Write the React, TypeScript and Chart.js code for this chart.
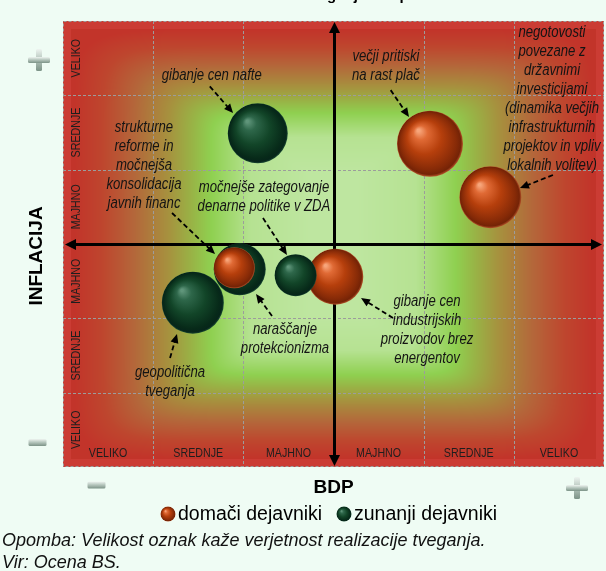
import React, { useEffect, useRef } from 'react';
import { Chart, registerables } from 'chart.js';

Chart.register(...registerables);

// ---------- data ----------
const titleText = 'Matrika tveganj za napoved';
const xAxisTitle = 'BDP';
const yAxisTitle = 'INFLACIJA';
const colLabels = ['VELIKO', 'SREDNJE', 'MAJHNO', 'MAJHNO', 'SREDNJE', 'VELIKO'];
const rowLabels = ['VELIKO', 'SREDNJE', 'MAJHNO', 'MAJHNO', 'SREDNJE', 'VELIKO'];
const legendLabels = ['domači dejavniki', 'zunanji dejavniki'];
const noteLines = [
  'Opomba: Velikost oznak kaže verjetnost realizacije tveganja.',
  'Vir: Ocena BS.',
];

// risks (drawing order = array order)
const riskNames = [
  'geopolitična tveganja',
  'naraščanje protekcionizma',
  'strukturne reforme in močnejša konsolidacija javnih financ',
  'gibanje cen industrijskih proizvodov brez energentov',
  'močnejše zategovanje denarne politike v ZDA',
  'gibanje cen nafte',
  'večji pritiski na rast plač',
  'negotovosti povezane z državnimi investicijami',
];
const riskBDP = [-1.56, -1.04, -1.1, 0.02, -0.42, -0.84, 1.07, 1.74];
const riskInflacija = [-0.79, -0.34, -0.32, -0.44, -0.42, 1.49, 1.35, 0.63];
const riskVerjetnost = [31, 26, 20.5, 28, 21, 30, 33, 31];
const riskType = ['z', 'z', 'd', 'd', 'z', 'z', 'd', 'd'];

// annotation texts with anchors in data units
const annotations = [
  { lines: ['gibanje cen nafte'], at: [-1.35, 2.27], from: [-1.372, 2.12], to: [-1.114, 1.762] },
  { lines: ['večji pritiski', 'na rast plač'], at: [0.582, 2.526], from: [0.634, 2.07], to: [0.837, 1.709] },
  {
    lines: ['negotovosti', 'povezane z', 'državnimi', 'investicijami', '(dinamika večjih', 'infrastrukturnih', 'projektov in vpliv', 'lokalnih volitev)'],
    at: [2.423, 2.839], from: [2.434, 0.928], to: [2.068, 0.753],
  },
  {
    lines: ['strukturne', 'reforme in', 'močnejša', 'konsolidacija', 'javnih financ'],
    at: [-2.102, 1.561], from: [-1.791, 0.417], to: [-1.314, -0.135],
  },
  { lines: ['močnejše zategovanje', 'denarne politike v ZDA'], at: [-0.771, 0.765], from: [-0.782, 0.35], to: [-0.516, -0.148] },
  { lines: ['naraščanje', 'protekcionizma'], at: [-0.538, -1.157], from: [-0.682, -0.969], to: [-0.859, -0.673] },
  { lines: ['geopolitična', 'tveganja'], at: [-1.813, -1.736], from: [-1.813, -1.534], to: [-1.736, -1.211] },
  {
    lines: ['gibanje cen', 'industrijskih', 'proizvodov brez', 'energentov'],
    at: [1.037, -0.78], from: [0.66, -0.996], to: [0.305, -0.727],
  },
];

// ---------- styling helpers ----------
const FONT = '"Liberation Sans", Arial, sans-serif';
const PAGE_BG = '#effcf4';
const NARROW = 0.82;

const stops: [number, number[]][] = [
  [0, [190, 230, 160]],
  [0.25, [182, 226, 146]],
  [0.42, [143, 208, 80]],
  [0.5, [152, 180, 70]],
  [0.6, [166, 146, 62]],
  [0.75, [180, 102, 58]],
  [0.88, [190, 70, 46]],
  [1, [194, 52, 42]],
];

function colorAt(t: number) {
  for (let i = 1; i < stops.length; i++) {
    if (t <= stops[i][0]) {
      const [t0, c0] = stops[i - 1];
      const [t1, c1] = stops[i];
      const f = (t - t0) / (t1 - t0);
      return [c0[0] + (c1[0] - c0[0]) * f, c0[1] + (c1[1] - c0[1]) * f, c0[2] + (c1[2] - c0[2]) * f];
    }
  }
  return stops[stops.length - 1][1];
}

let gradCache: HTMLCanvasElement | null = null;
function gradientCanvas(w: number, h: number) {
  if (gradCache && gradCache.width === w && gradCache.height === h) return gradCache;
  const c = document.createElement('canvas');
  c.width = w;
  c.height = h;
  const g = c.getContext('2d')!;
  const img = g.createImageData(w, h);
  const clamp = (v: number) => Math.max(0, Math.min(1, v));
  for (let j = 0; j < h; j++) {
    for (let i = 0; i < w; i++) {
      const u = Math.abs(i + 0.5 - w / 2) / (w / 2);
      const v = Math.abs(j + 0.5 - h / 2) / (h / 2);
      const tu = clamp(1.15 * u - 0.1);
      const tv = clamp(1.55 * v - 0.49);
      const t = clamp(Math.pow(Math.pow(tu, 8) + Math.pow(tv, 8), 0.125));
      let col = colorAt(t);
      if (i < 8 || j < 8 || i >= w - 8 || j >= h - 8) col = [203, 60, 52];
      const k = (j * w + i) * 4;
      img.data[k] = col[0];
      img.data[k + 1] = col[1];
      img.data[k + 2] = col[2];
      img.data[k + 3] = 255;
    }
  }
  g.putImageData(img, 0, 0);
  gradCache = c;
  return c;
}

function sphereGradient(ctx: CanvasRenderingContext2D, x: number, y: number, r: number, type: string) {
  if (!isFinite(x) || !isFinite(y) || !isFinite(r) || r <= 0) return type === 'd' ? '#bb420e' : '#124528';
  const g = ctx.createRadialGradient(x - r * 0.35, y - r * 0.4, r * 0.04, x, y, r);
  if (type === 'd') {
    g.addColorStop(0, '#f7a57a');
    g.addColorStop(0.18, '#e06a35');
    g.addColorStop(0.5, '#b63f0c');
    g.addColorStop(0.85, '#862a07');
    g.addColorStop(0.95, '#742306');
    g.addColorStop(1, '#b5532a');
  } else {
    g.addColorStop(0, '#5f957a');
    g.addColorStop(0.2, '#2e674a');
    g.addColorStop(0.55, '#124528');
    g.addColorStop(0.88, '#072a19');
    g.addColorStop(0.96, '#06251a');
    g.addColorStop(1, '#1a4a33');
  }
  return g;
}

function narrowText(ctx: CanvasRenderingContext2D, text: string, x: number, y: number, font: string, align: CanvasTextAlign = 'center', sx = NARROW) {
  ctx.save();
  ctx.translate(x, y);
  ctx.scale(sx, 1);
  ctx.font = font;
  ctx.textAlign = align;
  ctx.textBaseline = 'middle';
  ctx.fillText(text, 0, 0);
  ctx.restore();
}

function arrowHead(ctx: CanvasRenderingContext2D, x0: number, y0: number, x1: number, y1: number, len: number, half: number) {
  const a = Math.atan2(y1 - y0, x1 - x0);
  ctx.beginPath();
  ctx.moveTo(x1, y1);
  ctx.lineTo(x1 - len * Math.cos(a) + half * Math.sin(a), y1 - len * Math.sin(a) - half * Math.cos(a));
  ctx.lineTo(x1 - len * Math.cos(a) - half * Math.sin(a), y1 - len * Math.sin(a) + half * Math.cos(a));
  ctx.closePath();
  ctx.fill();
}

function bevelRect(ctx: CanvasRenderingContext2D, x: number, y: number, w: number, h: number) {
  const g = ctx.createLinearGradient(0, y, 0, y + h);
  g.addColorStop(0, '#eef4f0');
  g.addColorStop(0.45, '#b8c8bf');
  g.addColorStop(1, '#7c9387');
  ctx.fillStyle = g;
  ctx.beginPath();
  if ((ctx as any).roundRect) (ctx as any).roundRect(x, y, w, h, 1.5);
  else ctx.rect(x, y, w, h);
  ctx.fill();
}
function plusIcon(ctx: CanvasRenderingContext2D, cx: number, cy: number) {
  bevelRect(ctx, cx - 3, cy - 11, 6, 22);
  bevelRect(ctx, cx - 11, cy - 3, 22, 6);
}
function minusIcon(ctx: CanvasRenderingContext2D, cx: number, cy: number) {
  bevelRect(ctx, cx - 9, cy - 3.5, 18, 7);
}

const matrixPlugin = {
  id: 'matrix',
  beforeDraw(chart: any) {
    const { ctx, chartArea: a, scales } = chart;
    const xs = scales.x;
    const ys = scales.y;
    ctx.save();
    ctx.fillStyle = PAGE_BG;
    ctx.fillRect(0, 0, chart.width, chart.height);
    const w = Math.round(a.right - a.left);
    const h = Math.round(a.bottom - a.top);
    ctx.drawImage(gradientCanvas(w, h), a.left, a.top);

    // dashed grid
    ctx.strokeStyle = '#9c9c9c';
    ctx.lineWidth = 1;
    ctx.setLineDash([3, 2]);
    for (const v of [-2, -1, 1, 2]) {
      const px = Math.round(xs.getPixelForValue(v)) + 0.5;
      ctx.beginPath();
      ctx.moveTo(px, a.top);
      ctx.lineTo(px, a.bottom);
      ctx.stroke();
      const py = Math.round(ys.getPixelForValue(v)) + 0.5;
      ctx.beginPath();
      ctx.moveTo(a.left, py);
      ctx.lineTo(a.right, py);
      ctx.stroke();
    }
    ctx.strokeRect(a.left + 0.5, a.top + 0.5, w - 1, h - 1);
    ctx.setLineDash([]);

    // cell labels
    ctx.fillStyle = '#1e1e1e';
    colLabels.forEach((t, i) => {
      narrowText(ctx, t, xs.getPixelForValue(-2.5 + i), a.bottom - 14, `13px ${FONT}`);
    });
    rowLabels.forEach((t, i) => {
      ctx.save();
      ctx.translate(a.left + 13, ys.getPixelForValue(2.5 - i));
      ctx.rotate(-Math.PI / 2);
      narrowText(ctx, t, 0, 0, `13px ${FONT}`);
      ctx.restore();
    });

    // axes with arrows
    const cx = Math.round(xs.getPixelForValue(0)) + 0.5;
    const cy = Math.round(ys.getPixelForValue(0)) + 0.5;
    ctx.strokeStyle = '#000';
    ctx.fillStyle = '#000';
    ctx.lineWidth = 3;
    ctx.beginPath();
    ctx.moveTo(a.left + 10, cy);
    ctx.lineTo(a.right - 10, cy);
    ctx.moveTo(cx, a.top + 9);
    ctx.lineTo(cx, a.bottom - 9);
    ctx.stroke();
    arrowHead(ctx, cx, cy, a.left + 2, cy, 11, 5.5);
    arrowHead(ctx, cx, cy, a.right - 2, cy, 11, 5.5);
    arrowHead(ctx, cx, cy, cx, a.top + 1, 11, 5.5);
    arrowHead(ctx, cx, cy, cx, a.bottom - 1, 11, 5.5);
    ctx.restore();
  },
  afterDatasetsDraw(chart: any) {
    const { ctx, scales } = chart;
    const xs = scales.x;
    const ys = scales.y;
    ctx.save();
    ctx.fillStyle = '#141414';
    ctx.strokeStyle = '#000';
    annotations.forEach((an) => {
      const px = xs.getPixelForValue(an.at[0]);
      const py = ys.getPixelForValue(an.at[1]);
      an.lines.forEach((l, i) => {
        narrowText(ctx, l, px, py + i * 19, `italic 16px ${FONT}`);
      });
      const x0 = xs.getPixelForValue(an.from[0]);
      const y0 = ys.getPixelForValue(an.from[1]);
      const x1 = xs.getPixelForValue(an.to[0]);
      const y1 = ys.getPixelForValue(an.to[1]);
      const ang = Math.atan2(y1 - y0, x1 - x0);
      ctx.lineWidth = 1.8;
      ctx.setLineDash([5, 3]);
      ctx.beginPath();
      ctx.moveTo(x0, y0);
      ctx.lineTo(x1 - 6 * Math.cos(ang), y1 - 6 * Math.sin(ang));
      ctx.stroke();
      ctx.setLineDash([]);
      ctx.fillStyle = '#000';
      arrowHead(ctx, x0, y0, x1, y1, 9, 4);
      ctx.fillStyle = '#141414';
    });
    ctx.restore();
  },
  afterDraw(chart: any) {
    const { ctx, chartArea: a } = chart;
    ctx.save();
    // title (cut by the top edge)
    ctx.fillStyle = '#000';
    ctx.font = `bold 15px ${FONT}`;
    ctx.textAlign = 'left';
    ctx.textBaseline = 'alphabetic';
    const pre = ctx.measureText('Matrika tve').width;
    ctx.fillText(titleText, 327 - pre, -0.5);

    // axis titles
    ctx.font = `bold 19px ${FONT}`;
    ctx.textAlign = 'center';
    ctx.textBaseline = 'middle';
    ctx.fillText(xAxisTitle, (a.left + a.right) / 2, a.bottom + 21);
    ctx.save();
    ctx.translate(37, 256);
    ctx.rotate(-Math.PI / 2);
    ctx.fillText(yAxisTitle, 0, 0);
    ctx.restore();

    // plus / minus icons
    plusIcon(ctx, 39, 60);
    minusIcon(ctx, 37.5, 442.5);
    minusIcon(ctx, 96.5, 485);
    plusIcon(ctx, 577, 488);

    // legend
    const ly = 514;
    ctx.font = `19.5px ${FONT}`;
    ctx.textAlign = 'left';
    ctx.textBaseline = 'middle';
    const items = [
      { t: legendLabels[0], type: 'd', bx: 168 },
      { t: legendLabels[1], type: 'z', bx: 344 },
    ];
    items.forEach((it) => {
      ctx.fillStyle = sphereGradient(ctx, it.bx, ly, 7.5, it.type);
      ctx.beginPath();
      ctx.arc(it.bx, ly, 7.5, 0, Math.PI * 2);
      ctx.fill();
      ctx.fillStyle = '#000';
      ctx.fillText(it.t, it.bx + 10, ly + 1);
    });

    // notes
    ctx.font = `italic 18px ${FONT}`;
    ctx.fillStyle = '#111';
    ctx.textBaseline = 'alphabetic';
    ctx.fillText(noteLines[0], 2, 546);
    ctx.fillText(noteLines[1], 2, 568);
    ctx.restore();
  },
};

export default function App() {
  const ref = useRef<HTMLCanvasElement | null>(null);
  useEffect(() => {
    if (!ref.current) return;
    const points = riskNames.map((name, i) => ({
      x: riskBDP[i],
      y: riskInflacija[i],
      r: riskVerjetnost[i],
      name,
      type: riskType[i],
    }));
    const chart = new Chart(ref.current, {
      type: 'bubble',
      data: {
        datasets: [
          {
            label: 'tveganja',
            data: points as any,
            borderWidth: 0,
            hoverRadius: 0,
            hoverBorderWidth: 0,
            backgroundColor: (c: any) => {
              if (c.type !== 'data' || !c.raw) return '#888';
              const ch = c.chart;
              const x = ch.scales.x ? ch.scales.x.getPixelForValue(c.raw.x) : NaN;
              const y = ch.scales.y ? ch.scales.y.getPixelForValue(c.raw.y) : NaN;
              return sphereGradient(ch.ctx, x, y, c.raw.r, c.raw.type);
            },
          } as any,
        ],
      },
      options: {
        responsive: false,
        animation: false,
        devicePixelRatio: 1,
        events: [],
        layout: { autoPadding: false, padding: { left: 63, top: 21, right: 2, bottom: 104 } },
        scales: {
          x: { type: 'linear', min: -3, max: 3, display: false },
          y: { type: 'linear', min: -3, max: 3, display: false },
        },
        plugins: {
          legend: { display: false },
          tooltip: { enabled: false },
          title: { display: false },
        },
      },
      plugins: [matrixPlugin as any],
    });
    return () => chart.destroy();
  }, []);
  return (
    <div style={{ position: 'fixed', left: 0, top: 0, width: 606, height: 571, background: PAGE_BG }}>
      <canvas ref={ref} width={606} height={571} style={{ display: 'block' }} />
    </div>
  );
}
